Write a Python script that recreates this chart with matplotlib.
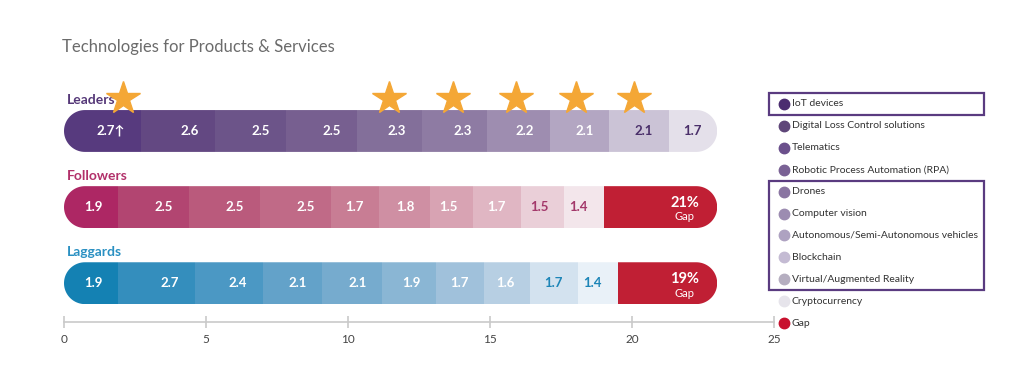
import numpy as np
import matplotlib
matplotlib.use("Agg")
import matplotlib.pyplot as plt
from matplotlib.patches import Polygon, Rectangle

plt.rcParams["font.family"] = ["Lato", "DejaVu Sans"]

# ---------------------------------------------------------------------------
# Data
# ---------------------------------------------------------------------------
title = "Technologies for Products & Services"
groups = ["Leaders", "Followers", "Laggards"]

leaders = [2.7, 2.6, 2.5, 2.5, 2.3, 2.3, 2.2, 2.1, 2.1, 1.7]
followers = [1.9, 2.5, 2.5, 2.5, 1.7, 1.8, 1.5, 1.7, 1.5, 1.4]
laggards = [1.9, 2.7, 2.4, 2.1, 2.1, 1.9, 1.7, 1.6, 1.7, 1.4]
gap_labels = [None, "21%", "19%"]

star_segments = [0, 4, 5, 6, 7, 8]   # Leaders segments marked with a star

technologies = [
    "IoT devices", "Digital Loss Control solutions", "Telematics",
    "Robotic Process Automation (RPA)", "Drones", "Computer vision",
    "Autonomous/Semi-Autonomous vehicles", "Blockchain",
    "Virtual/Augmented Reality", "Cryptocurrency", "Gap",
]
boxed_groups = [[0], [4, 5, 6, 7, 8]]

# ---------------------------------------------------------------------------
# Styling
# ---------------------------------------------------------------------------
GAP_COLOR = "#c01f34"
group_colors = ["#553878", "#b2306a", "#2a90c2"]
segment_colors = [
    ["#573a7e", "#634882", "#6c5489", "#775f90", "#836f9a",
     "#8e7ba3", "#9e8db0", "#b3a6c2", "#cbc3d6", "#e4e0ea"],
    ["#ad2764", "#b24571", "#ba5a7c", "#c06a87", "#c87d94",
     "#cf8fa3", "#d8a3b3", "#e0b6c3", "#eacfd8", "#f3e6eb"],
    ["#1481b3", "#348ebd", "#4b98c4", "#63a2c9", "#76abce",
     "#8ab6d4", "#a0c1db", "#b7cfe3", "#d3e2ef", "#e9f1f8"],
]
dark_text = [[8, 9], [8, 9], [8, 9]]
dark_text_colors = ["#4a2f6a", "#a3386a", "#1d85b7"]
legend_colors = ["#4b2c70", "#5f4679", "#6b508c", "#7a6295", "#8a75a2",
                 "#9c8cb1", "#aea2c1", "#c4bbd3", "#b5aec0", "#e6e4eb", "#c8102e"]
# where each star sits inside its segment (fraction of segment width)
star_frac = [0.77, 0.5, 0.48, 0.46, 0.44, 0.42]

BAR_H = 0.55

fig = plt.figure(figsize=(10.24, 3.9), dpi=100)
ax = fig.add_axes([64 / 1024, 1 - 322 / 390, 710 / 1024, 242 / 390])
ax.set_xlim(0, 25)
ax.set_ylim(2.51, -0.67)

rows = [leaders, followers, laggards]
total = sum(leaders)

# pixel -> data scale for round caps
px_per_x = 710 / 25
px_per_y = 242 / (2.51 + 0.67)
rx = (BAR_H * px_per_y / 2) / px_per_x


def capsule(x0, x1, yc):
    ry = BAR_H / 2
    t = np.linspace(-np.pi / 2, np.pi / 2, 40)
    right = np.column_stack([x1 - rx + rx * np.cos(t), yc + ry * np.sin(t)])
    t2 = np.linspace(np.pi / 2, 3 * np.pi / 2, 40)
    left = np.column_stack([x0 + rx + rx * np.cos(t2), yc + ry * np.sin(t2)])
    return np.vstack([right, left])


for i, (name, vals) in enumerate(zip(groups, rows)):
    vals = np.array(vals)
    lefts = np.concatenate([[0], np.cumsum(vals)[:-1]])
    ends = lefts + vals
    clip = Polygon(capsule(0, total, i), closed=True, transform=ax.transData,
                   facecolor="none", edgecolor="none")
    ax.add_patch(clip)
    bars = ax.barh(i, vals, left=lefts, height=BAR_H,
                   color=segment_colors[i], edgecolor="none")
    for b in bars:
        b.set_clip_path(clip)
    for j, (v, e) in enumerate(zip(vals, ends)):
        label = f"{v:.1f}" + ("↑" if (i == 0 and j == 0) else "")
        col = dark_text_colors[i] if j in dark_text[i] else "white"
        ax.text(e - 0.55, i, label, ha="right", va="center",
                fontsize=9.5, fontweight="bold", color=col, zorder=5)
    if gap_labels[i]:
        gstart = ends[-1]
        gb = ax.barh(i, total - gstart, left=gstart, height=BAR_H,
                     color=GAP_COLOR, edgecolor="none")
        gb[0].set_clip_path(clip)
        gx = total - 1.15
        ax.text(gx, i - 0.06, gap_labels[i], ha="center", va="center",
                fontsize=10.5, fontweight="bold", color="white", zorder=5)
        ax.text(gx, i + 0.13, "Gap", ha="center", va="center",
                fontsize=8, color="white", zorder=5)
    ax.text(0.1, i - 0.41, name, ha="left", va="center", fontsize=10,
            fontweight="bold", color=group_colors[i])

# stars over Leaders
lv = np.array(leaders)
lstarts = np.concatenate([[0], np.cumsum(lv)[:-1]])
star_x = lstarts[star_segments] + lv[star_segments] * np.array(star_frac)
ax.plot(star_x, [-0.44] * len(star_segments), linestyle="none",
        marker="*", ms=25, color="#f4a736", markeredgecolor="#f4a736",
        clip_on=False, zorder=6)

# axis
for s in ["top", "right", "left"]:
    ax.spines[s].set_visible(False)
ax.spines["bottom"].set_color("#c9c9c9")
ax.spines["bottom"].set_linewidth(1.2)
ax.set_yticks([])
ax.set_xticks(np.arange(0, 26, 5))
ax.tick_params(axis="x", direction="inout", length=9, width=1.2,
               color="#c9c9c9", labelsize=8.5, labelcolor="#444444", pad=4)

fig.text(62 / 1024, 1 - 47 / 390, title, ha="left", va="center",
         fontsize=12, color="#6b6b6b")

# legend panel in pixel coordinates
lax = fig.add_axes([0, 0, 1, 1])
lax.set_xlim(0, 1024)
lax.set_ylim(390, 0)
lax.axis("off")
ly0, lstep = 104, 21.9
for k, (tech, c) in enumerate(zip(technologies, legend_colors)):
    yk = ly0 + k * lstep
    lax.plot(784, yk, marker="o", ms=7.5, color=c, linestyle="none")
    lax.text(792, yk, tech, ha="left", va="center", fontsize=7.5,
             color="#333333")
for grp in boxed_groups:
    top = ly0 + grp[0] * lstep - 11
    bot = ly0 + grp[-1] * lstep + 11
    lax.add_patch(Rectangle((769, top), 984 - 769, bot - top, fill=False,
                            edgecolor="#5a3b80", linewidth=1.6))

fig.savefig("out.png", dpi=100)
